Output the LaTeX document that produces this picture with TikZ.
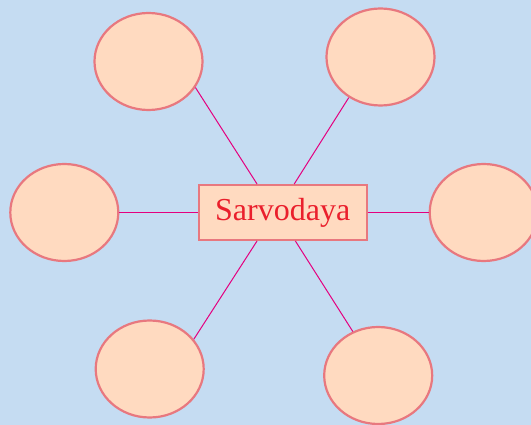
\documentclass[tikz,border=0pt]{standalone}
\usepackage{fontspec}
\setmainfont{Liberation Serif}
\usetikzlibrary{shapes.geometric}
\definecolor{SkyBack}{HTML}{C5DCF2}
\definecolor{Peach}{HTML}{FFDAC0}
\definecolor{RimRed}{HTML}{E8787F}
\definecolor{TextRed}{HTML}{EA1F2C}
\definecolor{Spoke}{HTML}{E4007F}
\begin{document}
\begin{tikzpicture}[x=1pt,y=-1pt,
        blob/.style={ellipse,draw=RimRed,fill=Peach,line width=2.2pt,
          minimum width=108pt,minimum height=97pt,inner sep=0pt},
        hub/.style={rectangle,draw=RimRed,fill=Peach,line width=2pt,
          minimum width=168pt,minimum height=55pt,inner sep=0pt,
          text=TextRed,font=\fontsize{32}{32}\selectfont},
        spoke/.style={draw=Spoke,line width=1pt}]
        \fill[SkyBack] (0,0) rectangle (531,425);
        \useasboundingbox (0,0) rectangle (531,425);

        % the six ellipses
        \node[blob] (tl) at (148.5,61.5){};
        \node[blob] (tr) at (380.5,57){};
        \node[blob] (ml) at (64.3,212.5){};
        \node[blob] (mr) at (483.7,212.5){};
        \node[blob] (bl) at (149.7,369){};
        \node[blob] (br) at (378.2,375.5){};

        % the box in the middle
        \node[hub] (sarv) at (282.7,212.5){Sarvodaya};

        % spokes
        \draw[spoke] (sarv.132) -- (tl.-29);
        \draw[spoke] (sarv.68) -- (tr.232);
        \draw[spoke] (sarv.west) -- (ml.east);
        \draw[spoke] (sarv.east) -- (mr.west);
        \draw[spoke] (sarv.228) -- (bl.34);
        \draw[spoke] (sarv.-66) -- (br.120);
    \end{tikzpicture}
\end{document}
